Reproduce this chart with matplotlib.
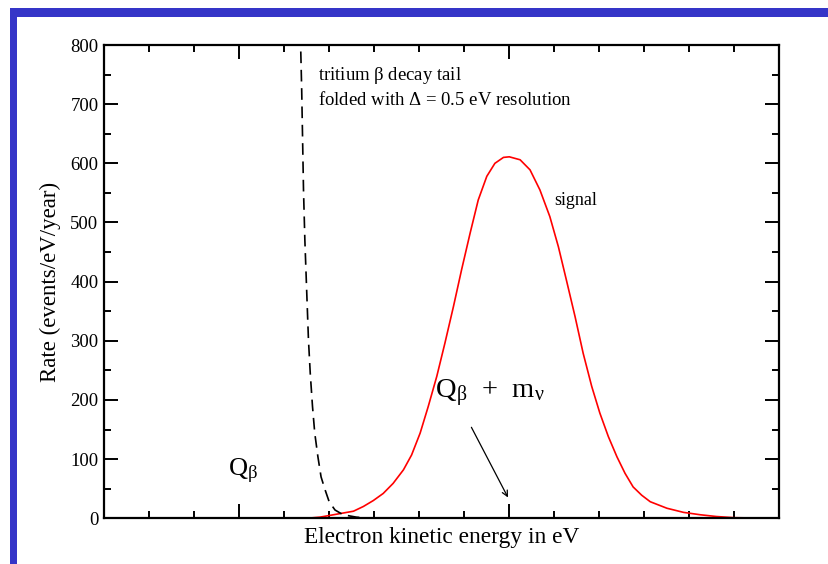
import numpy as np
import matplotlib
matplotlib.use("Agg")
import matplotlib.pyplot as plt
from matplotlib.patches import Rectangle
from matplotlib.ticker import FixedLocator, NullFormatter

plt.rcParams["mathtext.fontset"] = "stix"

# x in tick units (minor tick spacing), y in events/eV/year
signal_x = [0.0, 4.5, 4.80, 5.17, 5.54, 5.76, 5.98, 6.20, 6.42, 6.65, 6.83, 7.02, 7.20, 7.39,
            7.57, 7.76, 7.94, 8.13, 8.31, 8.50, 8.68, 8.87, 9.0,
            9.24, 9.46, 9.68, 9.90, 10.09, 10.27, 10.46, 10.64, 10.83, 11.01, 11.20, 11.39,
            11.57, 11.75, 11.94, 12.13, 12.5, 12.87, 13.24, 13.6, 14.0, 15.0]
signal_y = [0, 0, 2, 7, 12, 20, 30, 42, 59, 82, 107, 144, 189, 240,
            296, 358, 420, 482, 538, 578, 600, 610, 611,
            606, 589, 555, 510, 459, 402, 341, 279, 223, 178, 138, 104,
            76, 53, 39, 28, 17, 10, 6, 3, 1, 0]

tail_x = [4.36, 4.39, 4.41, 4.43, 4.46, 4.50, 4.54, 4.58, 4.63, 4.68, 4.75, 4.82, 4.91,
          5.00, 5.13, 5.31, 5.6, 5.9, 15.0]
tail_y = [820, 724, 640, 555, 471, 386, 302, 245, 189, 144, 104, 70, 48,
          28, 14, 6, 2, 0, 0]

x_major = [3, 9]
x_minor = [1, 2, 4, 5, 6, 7, 8, 10, 11, 12, 13, 14]
y_major = [0, 100, 200, 300, 400, 500, 600, 700, 800]
y_minor = [50, 150, 250, 350, 450, 550, 650, 750]

serif = "Liberation Serif"

fig = plt.figure(figsize=(8.29, 5.64), dpi=100)
fig.patch.set_facecolor("white")

# blue slide frame
fig.patches.append(Rectangle((10 / 829, 0), 7 / 829, 1 - 8 / 564, transform=fig.transFigure,
                             facecolor="#3535c8", edgecolor="none"))
fig.patches.append(Rectangle((10 / 829, 1 - 17 / 564), 1, 9 / 564, transform=fig.transFigure,
                             facecolor="#3535c8", edgecolor="none"))

ax = fig.add_axes([104 / 829, 1 - 518.3 / 564, (779.5 - 104) / 829, (518.3 - 45) / 564])

ax.plot(signal_x, signal_y, color="#ff0000", lw=1.2)
ax.plot(tail_x, tail_y, color="black", lw=1.2, dashes=(7, 4))

ax.set_xlim(0, 15)
ax.set_ylim(0, 800)

ax.xaxis.set_major_locator(FixedLocator(x_major))
ax.xaxis.set_minor_locator(FixedLocator(x_minor))
ax.xaxis.set_major_formatter(NullFormatter())
ax.yaxis.set_major_locator(FixedLocator(y_major))
ax.yaxis.set_minor_locator(FixedLocator(y_minor))

ax.tick_params(which="both", direction="in", top=True, right=True, width=1.4, color="black")
ax.tick_params(which="major", length=10)
ax.tick_params(which="minor", length=5)
ax.tick_params(axis="y", which="major", pad=4)
for lab in ax.get_yticklabels():
    lab.set_fontfamily(serif)
    lab.set_fontsize(13.5)
for sp in ax.spines.values():
    sp.set_linewidth(1.6)

ax.set_ylabel("Rate (events/eV/year)", family=serif, fontsize=16.5, labelpad=7)
ax.set_xlabel("Electron kinetic energy in eV", family=serif, fontsize=16.8, labelpad=3)

ax.text(4.75, 748, r"tritium $\mathregular{\beta}$ decay tail", family=serif, fontsize=13.5,
        va="center")
ax.text(4.75, 707, r"folded with $\mathregular{\Delta}$ = 0.5 eV resolution", family=serif,
        fontsize=13.5, va="center")
ax.text(10.0, 538, "signal", family=serif, fontsize=13, va="center")
ax.text(2.75, 80, r"Q$_{\mathregular{\beta}}$", family=serif, fontsize=19, va="center")
ax.text(7.35, 212, r"Q$_{\mathregular{\beta}}$  +  m$_{\mathregular{\nu}}$", family=serif,
        fontsize=20.5, va="center")
ax.annotate("", xy=(9.0, 31), xytext=(8.13, 158),
            arrowprops=dict(arrowstyle="->", color="black", lw=0.9))

fig.savefig("out.png", dpi=100)
